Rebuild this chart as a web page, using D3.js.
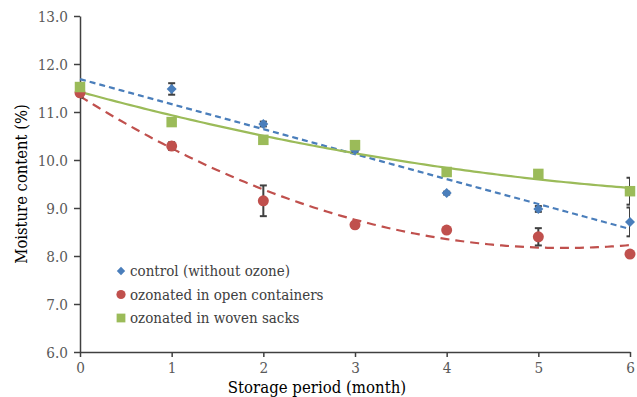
<!DOCTYPE html>
<html>
<head>
<meta charset="utf-8">
<script src="https://cdn.jsdelivr.net/npm/d3@7"></script>
<style>
  body { margin: 0; background: #fff; }
</style>
</head>
<body>
<svg id="chart" width="637" height="397"></svg>
<script>
// Data
const months = [0, 1, 2, 3, 4, 5, 6];
const controlValues = [11.42, 11.48, 10.75, 10.21, 9.31, 8.98, 8.71];
const controlErrors = [0.12, 0.12, 0.05, 0.04, 0.03, 0.06, 0.30];
const openValues = [11.40, 10.29, 9.15, 8.65, 8.54, 8.40, 8.04];
const openErrors = [0.05, 0.08, 0.32, 0.03, 0.02, 0.18, 0.03];
const sackValues = [11.52, 10.79, 10.42, 10.31, 9.75, 9.71, 9.35];
const sackErrors = [0.02, 0.02, 0.02, 0.02, 0.02, 0.02, 0.28];
const yTicks = [6, 7, 8, 9, 10, 11, 12, 13];
const seriesNames = ["control (without ozone)", "ozonated in open containers", "ozonated in woven sacks"];

const FONT = "'DejaVu Serif', 'Liberation Serif', serif";

// DejaVu Serif is wider than the Times-like face of the reference, so squeeze it a bit
function condense(sel, factor) {
    sel.each(function () {
        const w = this.getComputedTextLength();
        d3.select(this).attr("textLength", w * factor).attr("lengthAdjust", "spacingAndGlyphs");
    });
}

// rotated square reads like the Excel diamond marker
const diamond = { draw(ctx, size) { const r = Math.sqrt(size) / 2 * Math.SQRT2; ctx.moveTo(0, -r); ctx.lineTo(r, 0); ctx.lineTo(0, r); ctx.lineTo(-r, 0); ctx.closePath(); } };

const series = [
    { name: seriesNames[0], values: controlValues, errors: controlErrors, color: "#4a7ebb", shape: diamond, size: 50, fit: 1, dash: "6,4" },
    { name: seriesNames[1], values: openValues, errors: openErrors, color: "#c0504d", shape: d3.symbolCircle, size: 95, fit: 2, dash: "9,6" },
    { name: seriesNames[2], values: sackValues, errors: sackErrors, color: "#9bbb59", shape: d3.symbolSquare, size: 110, fit: 2, dash: null }
];

// least squares polynomial fit (order 1 or 2), like an Excel trendline
function polyFit(xs, ys, order) {
    const n = order + 1;
    const A = [], b = [];
    for (let i = 0; i < n; i++) {
        A.push([]);
        for (let j = 0; j < n; j++) A[i].push(d3.sum(xs, x => Math.pow(x, i + j)));
        b.push(d3.sum(xs, (x, k) => ys[k] * Math.pow(x, i)));
    }
    for (let i = 0; i < n; i++) {
        for (let k = i + 1; k < n; k++) {
            const f = A[k][i] / A[i][i];
            for (let j = i; j < n; j++) A[k][j] -= f * A[i][j];
            b[k] -= f * b[i];
        }
    }
    const c = new Array(n).fill(0);
    for (let i = n - 1; i >= 0; i--) {
        let s = b[i];
        for (let j = i + 1; j < n; j++) s -= A[i][j] * c[j];
        c[i] = s / A[i][i];
    }
    return x => c.reduce((acc, ci, i) => acc + ci * Math.pow(x, i), 0);
}

const svg = d3.select("#chart"),
    margin = { top: 16, right: 6, bottom: 45, left: 80 },
    width = 631 - margin.left,
    height = 352 - margin.top,
    g = svg.append("g").attr("transform", `translate(${margin.left},${margin.top})`);

const x = d3.scaleLinear().domain([0, 6]).range([0, width - 1]);
const y = d3.scaleLinear().domain([6, 13]).range([height, 0]);

svg.append("defs").append("clipPath").attr("id", "plotClip")
    .append("rect").attr("x", 0).attr("y", 0).attr("width", width - 1).attr("height", height);

// Axes
const yAxis = g.append("g")
    .call(d3.axisLeft(y).tickValues(yTicks).tickFormat(d3.format(".1f")).tickSize(6).tickSizeOuter(0));
const xAxis = g.append("g")
    .attr("transform", `translate(0,${height})`)
    .call(d3.axisBottom(x).tickValues(months).tickFormat(d3.format("d")).tickSize(5).tickSizeOuter(0));

[yAxis, xAxis].forEach(ax => {
    ax.attr("font-family", FONT);
    ax.select(".domain").attr("stroke", "#404040").attr("stroke-width", 1.5);
    ax.selectAll(".tick line").attr("stroke", "#404040").attr("stroke-width", 1.5);
    ax.selectAll("text").attr("font-family", FONT).style("font-size", "15.5px").style("fill", "#595959")
        .call(condense, 0.88);
});
yAxis.selectAll("text").attr("x", -12).attr("dy", "0.36em");
xAxis.selectAll("text").attr("y", 10).attr("dy", "0.72em");

// Trendlines
const fineX = d3.range(0, 6.001, 0.05);
series.forEach(s => {
    const f = polyFit(months, s.values, s.fit);
    g.append("path")
        .datum(fineX)
        .attr("fill", "none")
        .attr("stroke", s.color)
        .attr("stroke-width", 2.2)
        .attr("stroke-dasharray", s.dash)
        .attr("d", d3.line().x(d => x(d)).y(d => y(f(d))));
});

// Error bars
series.forEach(s => {
    const eb = g.append("g").attr("clip-path", "url(#plotClip)")
        .selectAll("g").data(months).enter().append("g");
    eb.append("line")
        .attr("x1", d => x(d)).attr("x2", d => x(d))
        .attr("y1", (d, i) => y(s.values[i] + s.errors[i]))
        .attr("y2", (d, i) => y(s.values[i] - s.errors[i]))
        .attr("stroke", "#404040").attr("stroke-width", 2);
    [1, -1].forEach(sign => {
        eb.append("line")
            .attr("x1", d => x(d) - 3.5).attr("x2", d => x(d) + 3.5)
            .attr("y1", (d, i) => y(s.values[i] + sign * s.errors[i]))
            .attr("y2", (d, i) => y(s.values[i] + sign * s.errors[i]))
            .attr("stroke", "#404040").attr("stroke-width", 2);
    });
});

// Markers
series.forEach(s => {
    g.selectAll(null).data(months).enter().append("path")
        .attr("transform", (d, i) => `translate(${x(d)},${y(s.values[i])})`)
        .attr("d", d3.symbol().type(s.shape).size(s.size))
        .attr("fill", s.color);
});

// Legend
const legend = svg.selectAll(".legend")
    .data(series)
    .enter().append("g")
    .attr("class", "legend")
    .attr("transform", (d, i) => `translate(121,${271 + i * 23.5})`);

legend.append("path")
    .attr("d", d => d3.symbol().type(d.shape).size(d.size * 0.7)())
    .attr("fill", d => d.color);

legend.append("text")
    .attr("x", 9)
    .attr("dy", "0.35em")
    .attr("font-family", FONT)
    .style("font-size", "15.5px")
    .style("fill", "#404040")
    .text(d => d.name)
    .call(condense, 0.87);

// Axis titles
svg.append("text")
    .attr("x", 317)
    .attr("y", 393)
    .attr("font-family", FONT)
    .style("text-anchor", "middle")
    .style("font-size", "17px")
    .style("fill", "#000")
    .text("Storage period (month)")
    .call(condense, 0.88);

svg.append("text")
    .attr("transform", "rotate(-90)")
    .attr("x", -184)
    .attr("y", 27)
    .attr("font-family", FONT)
    .style("text-anchor", "middle")
    .style("font-size", "17px")
    .style("fill", "#000")
    .text("Moisture content (%)")
    .call(condense, 0.87);
</script>
</body>
</html>
